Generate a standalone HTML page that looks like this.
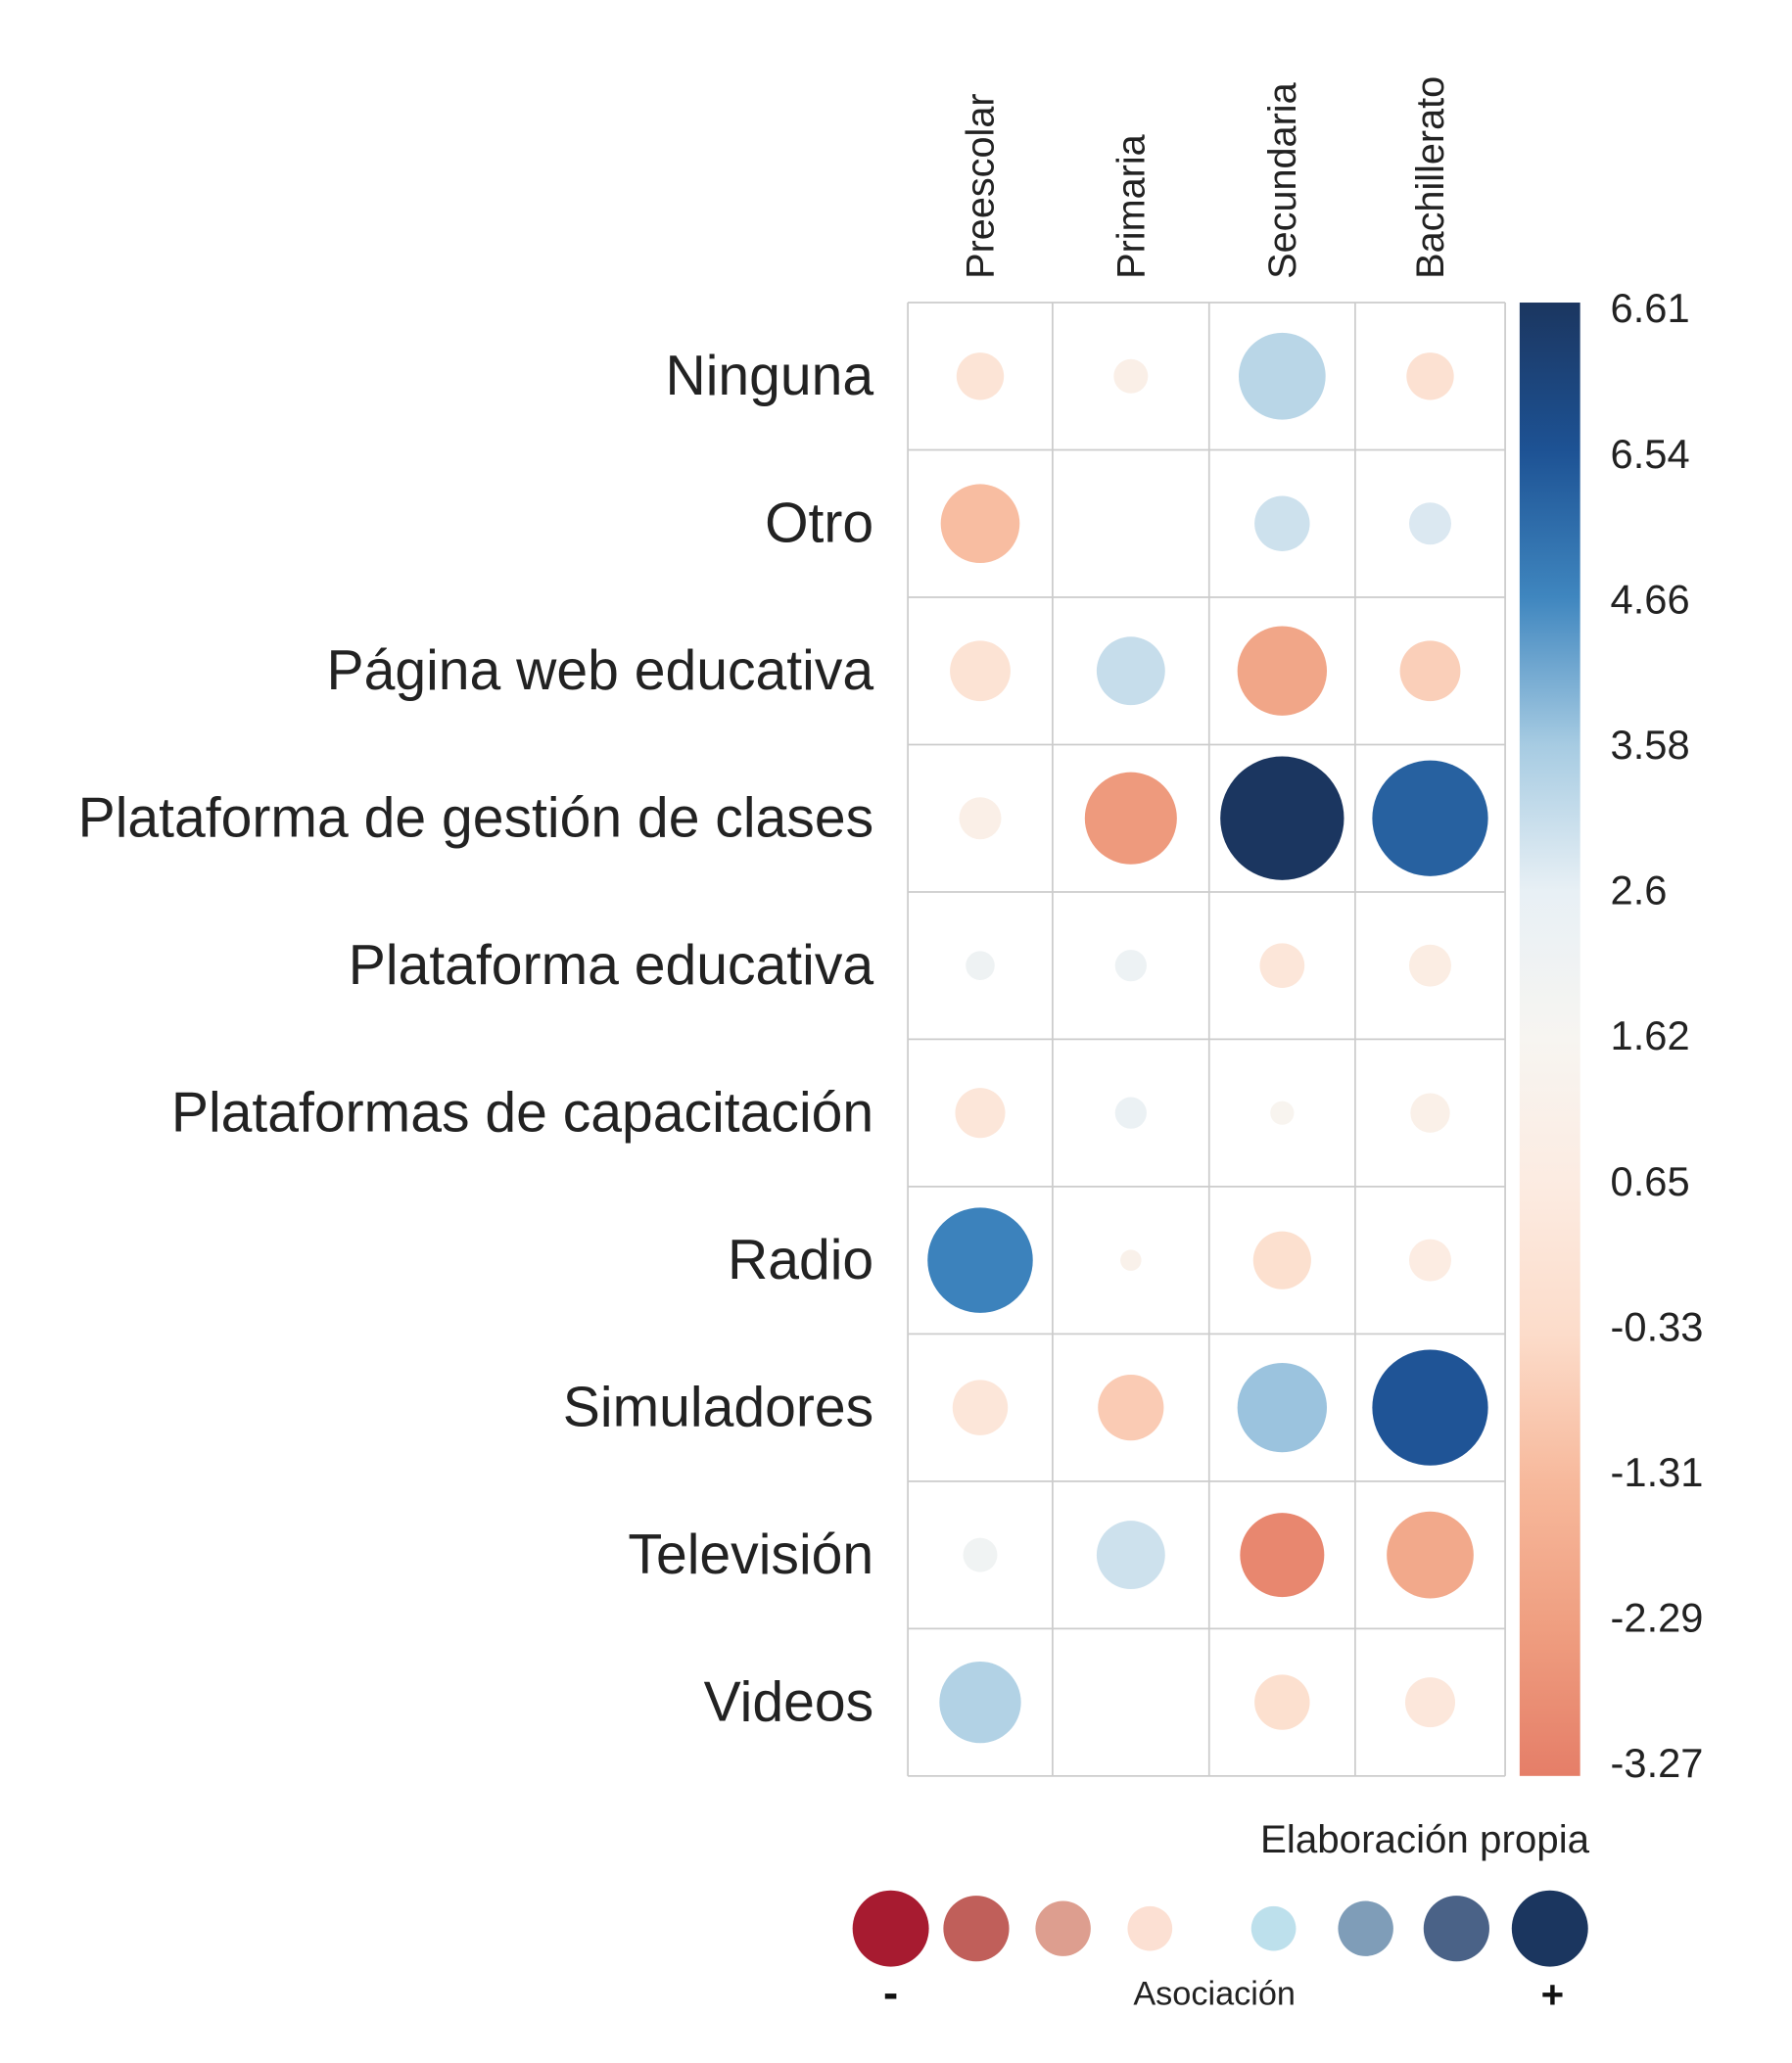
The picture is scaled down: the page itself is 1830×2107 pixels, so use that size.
<!DOCTYPE html>
<html><head><meta charset="utf-8"><style>
html,body{margin:0;padding:0;background:#fff;}
svg{display:block;font-family:"Liberation Sans",sans-serif;}
</style></head><body>
<svg id="chart" width="1830" height="2107" viewBox="0 0 1362 1568.2" xmlns="http://www.w3.org/2000/svg">
<g id="grid"></g>
<g id="marks"></g>
<g id="labels"></g>
<defs><linearGradient id="cbg" x1="0" y1="0" x2="0" y2="1">
<stop offset="0" stop-color="#1b3660"/><stop offset="0.1" stop-color="#1d5294"/><stop offset="0.2" stop-color="#3f86bf"/><stop offset="0.3" stop-color="#a6cbe2"/><stop offset="0.4" stop-color="#e8f0f5"/><stop offset="0.5" stop-color="#f7f5f1"/><stop offset="0.6" stop-color="#fcebe1"/><stop offset="0.7" stop-color="#fcdcca"/><stop offset="0.8" stop-color="#f7b99c"/><stop offset="0.9" stop-color="#ef9e80"/><stop offset="1" stop-color="#e57e68"/>
</linearGradient></defs>
<rect x="1155" y="230" width="46" height="1120" fill="url(#cbg)"/>
<g id="cbticks"></g>
<text x="1208" y="1408" text-anchor="end" font-size="30" fill="#222">Elaboración propia</text>
<g id="legend"></g>
<text x="677" y="1526" text-anchor="middle" font-size="34" font-weight="bold" fill="#111">-</text>
<text x="923" y="1524" text-anchor="middle" font-size="25.5" fill="#222">Asociación</text>
<text x="1180" y="1526" text-anchor="middle" font-size="30" font-weight="bold" fill="#111">+</text>
</svg>
<script>
const rows = ["Ninguna","Otro","Página web educativa","Plataforma de gestión de clases","Plataforma educativa","Plataformas de capacitación","Radio","Simuladores","Televisión","Videos"];
const cols = ["Preescolar","Primaria","Secundaria","Bachillerato"];
const values = [
 [0.2,1.0,3.3,0.0],
 [-1.2,null,3.0,2.8],
 [0.1,3.1,-2.0,-0.7],
 [1.0,-2.4,6.61,6.0],
 [2.2,2.3,0.3,0.8],
 [0.3,2.4,1.5,1.1],
 [4.8,1.2,-0.1,0.7],
 [0.3,-0.8,3.7,6.45],
 [2.1,3.0,-3.0,-1.9],
 [3.4,null,-0.1,0.4]
];
const sizes = [
 [18,13,33,18],
 [30,0,21,16],
 [23,26,34,23],
 [16,35,47,44],
 [11,12,17,16],
 [19,12,9,15],
 [40,8,22,16],
 [21,25,34,44],
 [13,26,32,33],
 [31,0,21,19]
];
const tickLabels = ["6.61","6.54","4.66","3.58","2.6","1.62","0.65","-0.33","-1.31","-2.29","-3.27"];
const tickValues = [6.61,6.54,4.66,3.58,2.6,1.62,0.65,-0.33,-1.31,-2.29,-3.27];
const tickColors = ["#1b3660","#1d5294","#3f86bf","#a6cbe2","#e8f0f5","#f7f5f1","#fcebe1","#fcdcca","#f7b99c","#ef9e80","#e57e68"];
const legendColors = ["#a71b30","#c05f5a","#dd9e8f","#fce0d3","#bde0ec","#7f9db8","#4a6287","#1b365f"];
const legendSizes = [29,25,21,17,17,21,25,29];

const NS="http://www.w3.org/2000/svg";
const colEdges=[690,800,919,1030,1144];
const top0=230,rowH=112;
function xC(j){return (colEdges[j]+colEdges[j+1])/2;}
function yC(i){return top0+rowH*(i+0.5);}
function rScale(s){return s;}
function hex(c){return [1,3,5].map(k=>parseInt(c.substr(k,2),16));}
function color(v){
  if(v>=tickValues[0])return tickColors[0];
  for(let k=0;k<tickValues.length-1;k++){
    const a=tickValues[k],b=tickValues[k+1];
    if(v<=a&&v>=b){const t=(a-v)/(a-b);const c1=hex(tickColors[k]),c2=hex(tickColors[k+1]);
      return "rgb("+c1.map((x,m)=>Math.round(x+(c2[m]-x)*t)).join(",")+")";}
  }
  return tickColors[tickColors.length-1];
}
const grid=document.getElementById('grid');
colEdges.forEach((x,j)=>{const l=document.createElementNS(NS,'line');


l.setAttribute('x1',x);l.setAttribute('x2',x);l.setAttribute('y1',top0);l.setAttribute('y2',top0+rowH*rows.length);
l.setAttribute('stroke','#cccccc');l.setAttribute('stroke-width','1.3');grid.appendChild(l);});
for(let i=0;i<=rows.length;i++){const l=document.createElementNS(NS,'line');


l.setAttribute('x1',colEdges[0]);l.setAttribute('x2',colEdges[4]);l.setAttribute('y1',top0+rowH*i);l.setAttribute('y2',top0+rowH*i);
l.setAttribute('stroke','#cccccc');l.setAttribute('stroke-width','1.3');grid.appendChild(l);}
const marks=document.getElementById('marks');
values.forEach((row,i)=>row.forEach((v,j)=>{
  if(v===null||!sizes[i][j])return;
  const c=document.createElementNS(NS,'circle');
  
  
  c.setAttribute('cx',xC(j));c.setAttribute('cy',yC(i));c.setAttribute('r',rScale(sizes[i][j]));
  c.setAttribute('fill',color(v));marks.appendChild(c);
}));
const labels=document.getElementById('labels');
rows.forEach((r,i)=>{const t=document.createElementNS(NS,'text');


t.setAttribute('x',664);t.setAttribute('y',yC(i)+14);t.setAttribute('text-anchor','end');
t.setAttribute('font-size','42.5');t.setAttribute('fill','#222');t.textContent=r;labels.appendChild(t);});
cols.forEach((c,j)=>{const t=document.createElementNS(NS,'text');


const x=xC(j)+10,y=212;
t.setAttribute('x',x);t.setAttribute('y',y);t.setAttribute('transform','rotate(-90 '+x+' '+y+')');
t.setAttribute('font-size','29.5');t.setAttribute('fill','#222');t.textContent=c;labels.appendChild(t);});
const cb=document.getElementById('cbticks');
tickLabels.forEach((s,k)=>{const t=document.createElementNS(NS,'text');


t.setAttribute('x',1224);t.setAttribute('y',245+110.6*k);t.setAttribute('font-size','31');t.setAttribute('fill','#222');
t.textContent=s;cb.appendChild(t);});
const lg=document.getElementById('legend');
const lx=[677,742,808,874,968,1038,1107,1178];
legendColors.forEach((col,k)=>{const c=document.createElementNS(NS,'circle');


c.setAttribute('cx',lx[k]);c.setAttribute('cy',1466);c.setAttribute('r',legendSizes[k]);c.setAttribute('fill',col);lg.appendChild(c);});
</script>
</body></html>
